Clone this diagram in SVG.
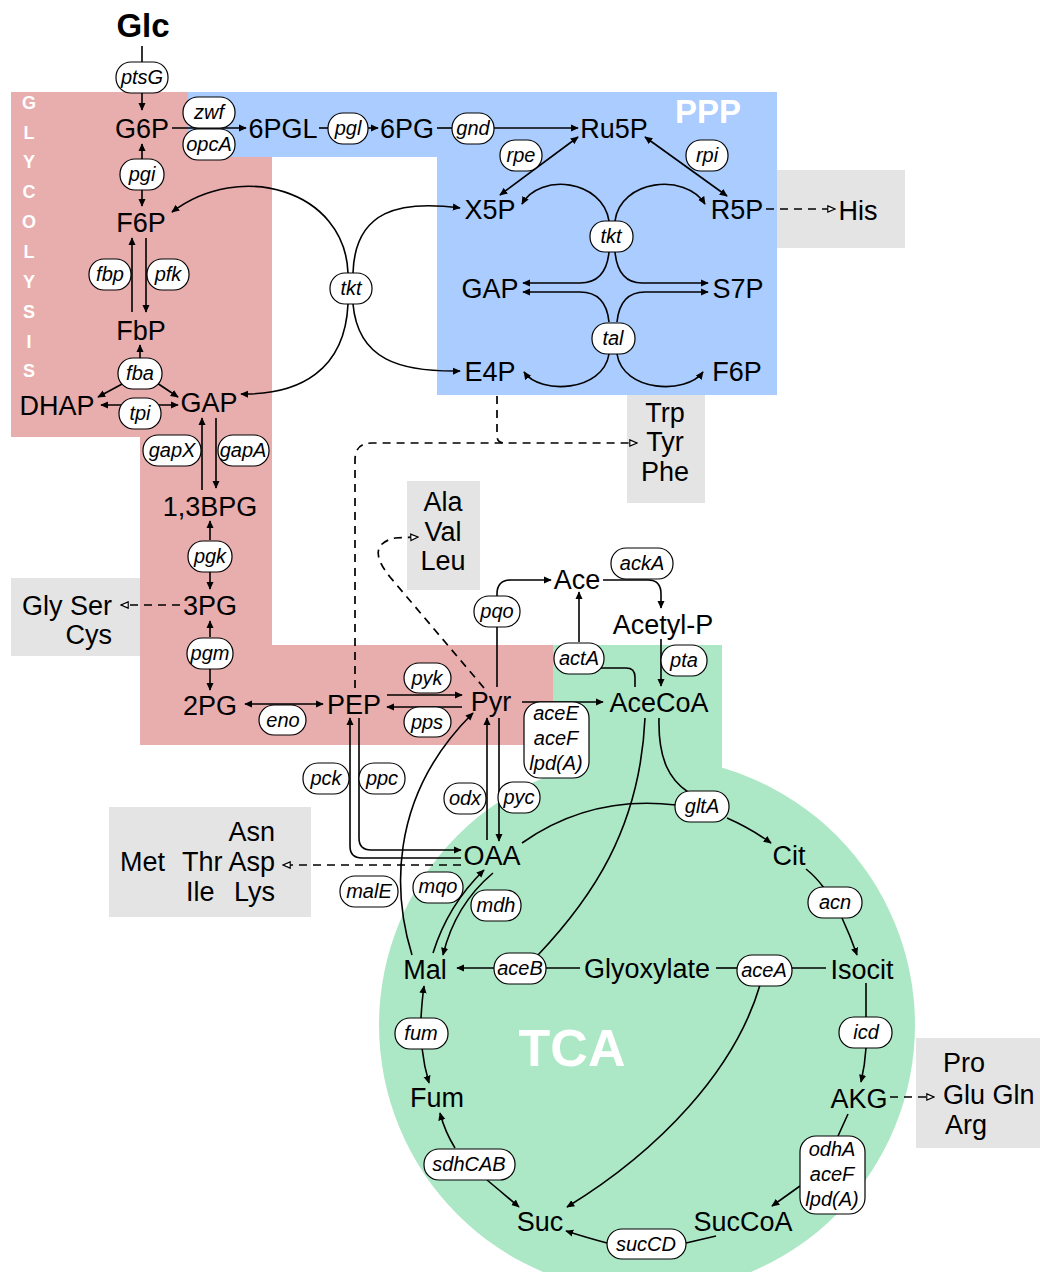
<svg xmlns="http://www.w3.org/2000/svg" width="1040" height="1272" viewBox="0 0 1040 1272">
<style>
text{font-family:'Liberation Sans',Arial,sans-serif;fill:#000}
.m{font-size:27px;text-anchor:middle}
.e{font-size:20px;font-style:italic;text-anchor:middle}
.p{fill:#fff;stroke:#000;stroke-width:1.2}
.c{fill:none;stroke:#000;stroke-width:1.6}
.a{marker-end:url(#ah)}
.b{marker-start:url(#ah);marker-end:url(#ah)}
.d{fill:none;stroke:#000;stroke-width:1.7;stroke-dasharray:8 6}
.o{marker-end:url(#oh)}
text.lab{font-weight:bold;fill:#fff;text-anchor:middle}
.aa{font-size:27px}
</style>
<defs>
<marker id="ah" viewBox="0 0 10 10" refX="9" refY="5" markerWidth="8" markerHeight="8" markerUnits="userSpaceOnUse" orient="auto-start-reverse"><path d="M0,0.5 L10,5 L0,9.5 Z" fill="#000"/></marker>
<marker id="oh" viewBox="0 0 10 10" refX="9" refY="5" markerWidth="9" markerHeight="9" markerUnits="userSpaceOnUse" orient="auto"><path d="M1,1.5 L9,5 L1,8.5 Z" fill="#fff" stroke="#000" stroke-width="1.3"/></marker>
</defs>
<rect width="1040" height="1272" fill="#fff"/>
<g id="regions">
<path d="M11,92 H272 V645 H553 V745 H140 V437 H11 Z" fill="#e8adad"/>
<path d="M188,92 H777 V395 H437 V157 H188 Z" fill="#aaccff"/>
<rect x="553" y="645" width="169" height="140" fill="#ade8c6"/>
<circle cx="647" cy="1025" r="268" fill="#ade8c6"/>
<rect x="777" y="170" width="128" height="78" fill="#e4e4e4"/>
<rect x="627" y="395" width="78" height="108" fill="#e4e4e4"/>
<rect x="407" y="481" width="73" height="109" fill="#e4e4e4"/>
<rect x="11" y="578" width="129" height="78" fill="#e4e4e4"/>
<rect x="109" y="807" width="202" height="110" fill="#e4e4e4"/>
<rect x="916" y="1038" width="124" height="110" fill="#e4e4e4"/>
<text class="lab" x="708" y="123" font-size="33">PPP</text>
<text class="lab" x="572" y="1066" font-size="52">TCA</text>
<g font-size="18">
<text class="lab" x="29" y="109">G</text><text class="lab" x="29" y="139">L</text><text class="lab" x="29" y="168">Y</text><text class="lab" x="29" y="198">C</text><text class="lab" x="29" y="228">O</text><text class="lab" x="29" y="258">L</text><text class="lab" x="29" y="288">Y</text><text class="lab" x="29" y="318">S</text><text class="lab" x="29" y="348">I</text><text class="lab" x="29" y="377">S</text>
</g>
</g>
<g id="connectors">
<path class="c" d="M142,46 V62"/>
<path class="c a" d="M142,93 V110"/>
<path class="c a" d="M172,128 H246"/>
<path class="c" d="M319,128 H328"/>
<path class="c a" d="M368,128 H378"/>
<path class="c" d="M437,128 H452"/>
<path class="c a" d="M494,128 H578"/>
<path class="c b" d="M500,195 L578,137"/>
<path class="c b" d="M645,137 L727,196"/>
<path class="c a" d="M142,159 V144"/>
<path class="c a" d="M142,190 V206"/>
<path class="c a" d="M132,312 V238"/>
<path class="c a" d="M146,238 V312"/>
<path class="c a" d="M140,358 V345"/>
<path class="c a" d="M124,383 L98,397"/>
<path class="c a" d="M157,383 L178,397"/>
<path class="c b" d="M101,405 H178"/>
<path class="c a" d="M202,490 V418"/>
<path class="c a" d="M216,418 V488"/>
<path class="c a" d="M210,540 V521"/>
<path class="c a" d="M210,572 V589"/>
<path class="c a" d="M210,637 V621"/>
<path class="c a" d="M210,669 V690"/>
<path class="c b" d="M245,704 H323"/>
<path class="c a" d="M387,695 H462"/>
<path class="c a" d="M462,707 H387"/>
<path class="c a" d="M497,687 V594 Q497,580 511,580 H551"/>
<path class="c" d="M635,687 V677 Q635,668 626,668 H600"/>
<path class="c a" d="M579,642 V592"/>
<path class="c a" d="M603,580 H648 Q661,580 661,594 V608"/>
<path class="c a" d="M661,639 V686"/>
<path class="c a" d="M522,702 H603"/>
<path class="c a" d="M359,718 V838 Q359,850 371,850 H461"/>
<path class="c a" d="M461,858 H362 Q350,858 350,846 V718"/>
<path class="c a" d="M487,840 V718"/>
<path class="c a" d="M499,718 V841"/>
<path class="c a" d="M412,955 C395,900 385,800 473,713"/>
<path class="c a" d="M433,953 Q448,905 484,870"/>
<path class="c a" d="M493,873 Q455,905 443,955"/>
<path class="c" d="M522,843 Q590,795 676,805"/>
<path class="c a" d="M727,818 Q750,828 771,843"/>
<path class="c" d="M659,718 C658,760 670,780 688,792"/>
<path class="c" d="M645,718 C640,830 590,900 538,955"/>
<path class="c" d="M580,968 H546"/>
<path class="c a" d="M494,968 H457"/>
<path class="c" d="M826,968 H792"/>
<path class="c" d="M737,968 H716"/>
<path class="c a" d="M760,985 C735,1070 660,1150 567,1207"/>
<path class="c" d="M806,869 Q816,877 824,888"/>
<path class="c a" d="M842,918 Q850,935 857,955"/>
<path class="c" d="M866,983 V1017"/>
<path class="c a" d="M866,1048 Q865,1065 861,1082"/>
<path class="c" d="M848,1114 L838,1136"/>
<path class="c a" d="M800,1186 L772,1206"/>
<path class="c" d="M716,1236 L686,1243"/>
<path class="c a" d="M607,1243 Q588,1238 566,1231"/>
<path class="c a" d="M455,1148 Q445,1132 440,1113"/>
<path class="c a" d="M487,1180 Q505,1195 519,1207"/>
<path class="c a" d="M422,1048 Q424,1066 429,1083"/>
<path class="c a" d="M421,1018 Q422,1000 424,986"/>
<path class="c a" d="M348,273 C345,190 240,160 172,212"/>
<path class="c a" d="M348,304 C345,370 300,395 241,394"/>
<path class="c a" d="M353,273 C355,210 400,200 460,208"/>
<path class="c a" d="M353,304 C358,360 400,372 460,371"/>
<path class="c a" d="M609,221 C603,180 540,172 522,204"/>
<path class="c a" d="M615,221 C620,180 685,172 705,204"/>
<path class="c a" d="M609,252 Q606,283 580,283 H523"/>
<path class="c a" d="M615,252 Q618,283 642,283 H708"/>
<path class="c a" d="M609,322 Q606,292 580,292 H523"/>
<path class="c a" d="M617,322 Q620,292 645,292 H708"/>
<path class="c a" d="M609,354 C603,392 540,395 524,372"/>
<path class="c a" d="M617,354 C623,392 686,395 703,372"/>
<path class="d o" d="M766,209 H835"/>
<path class="d" d="M497,396 V436 Q497,443 505,443"/>
<path class="d o" d="M355,688 V460 Q355,443 372,443 H637"/>
<path class="d o" d="M484,688 L390,577 Q364,545 395,538 L418,537"/>
<path class="d o" d="M180,605 H121"/>
<path class="d o" d="M461,865 H283"/>
<path class="d o" d="M890,1097 H934"/>
</g>
<g id="enzymes">
<g id="e-ptsG"><rect class="p" x="116" y="62" width="52" height="31" rx="15"/><text class="e" x="142" y="84">ptsG</text></g>
<g id="e-zwf"><rect class="p" x="183" y="97" width="52" height="31" rx="15"/><text class="e" x="209" y="119">zwf</text></g>
<g id="e-opcA"><rect class="p" x="183" y="129" width="52" height="31" rx="15"/><text class="e" x="209" y="151">opcA</text></g>
<g id="e-pgl"><rect class="p" x="328" y="113" width="40" height="31" rx="15"/><text class="e" x="348" y="135">pgl</text></g>
<g id="e-gnd"><rect class="p" x="452" y="113" width="42" height="31" rx="15"/><text class="e" x="473" y="135">gnd</text></g>
<g id="e-rpe"><rect class="p" x="500" y="140" width="42" height="31" rx="15"/><text class="e" x="521" y="162">rpe</text></g>
<g id="e-rpi"><rect class="p" x="686" y="140" width="42" height="31" rx="15"/><text class="e" x="707" y="162">rpi</text></g>
<g id="e-pgi"><rect class="p" x="120" y="159" width="44" height="31" rx="15"/><text class="e" x="142" y="181">pgi</text></g>
<g id="e-fbp"><rect class="p" x="89" y="259" width="42" height="31" rx="15"/><text class="e" x="110" y="281">fbp</text></g>
<g id="e-pfk"><rect class="p" x="147" y="259" width="42" height="31" rx="15"/><text class="e" x="168" y="281">pfk</text></g>
<g id="e-fba"><rect class="p" x="118" y="358" width="44" height="31" rx="15"/><text class="e" x="140" y="380">fba</text></g>
<g id="e-tpi"><rect class="p" x="119" y="398" width="42" height="31" rx="15"/><text class="e" x="140" y="420">tpi</text></g>
<g id="e-tkt1"><rect class="p" x="330" y="273" width="42" height="31" rx="15"/><text class="e" x="351" y="295">tkt</text></g>
<g id="e-tkt2"><rect class="p" x="590" y="221" width="43" height="31" rx="15"/><text class="e" x="611" y="243">tkt</text></g>
<g id="e-tal"><rect class="p" x="592" y="323" width="43" height="31" rx="15"/><text class="e" x="613" y="345">tal</text></g>
<g id="e-gapX"><rect class="p" x="143" y="435" width="58" height="31" rx="15"/><text class="e" x="172" y="457">gapX</text></g>
<g id="e-gapA"><rect class="p" x="218" y="435" width="51" height="31" rx="15"/><text class="e" x="243" y="457">gapA</text></g>
<g id="e-pgk"><rect class="p" x="188" y="541" width="44" height="31" rx="15"/><text class="e" x="210" y="563">pgk</text></g>
<g id="e-pgm"><rect class="p" x="187" y="638" width="46" height="31" rx="15"/><text class="e" x="210" y="660">pgm</text></g>
<g id="e-eno"><rect class="p" x="259" y="705" width="47" height="30" rx="15"/><text class="e" x="283" y="727">eno</text></g>
<g id="e-pyk"><rect class="p" x="404" y="663" width="47" height="30" rx="15"/><text class="e" x="427" y="685">pyk</text></g>
<g id="e-pps"><rect class="p" x="404" y="707" width="47" height="30" rx="15"/><text class="e" x="427" y="729">pps</text></g>
<g id="e-pqo"><rect class="p" x="474" y="596" width="46" height="31" rx="15"/><text class="e" x="497" y="618">pqo</text></g>
<g id="e-ackA"><rect class="p" x="611" y="548" width="62" height="31" rx="15"/><text class="e" x="642" y="570">ackA</text></g>
<g id="e-actA"><rect class="p" x="554" y="643" width="50" height="31" rx="15"/><text class="e" x="579" y="665">actA</text></g>
<g id="e-pta"><rect class="p" x="661" y="645" width="46" height="31" rx="15"/><text class="e" x="684" y="667">pta</text></g>
<g id="e-pdh"><rect class="p" x="524" y="702" width="65" height="76" rx="16"/><text class="e" x="556" y="720">aceE</text><text class="e" x="556" y="745">aceF</text><text class="e" x="556" y="770">lpd(A)</text></g>
<g id="e-pck"><rect class="p" x="303" y="763" width="46" height="31" rx="15"/><text class="e" x="326" y="785">pck</text></g>
<g id="e-ppc"><rect class="p" x="359" y="763" width="46" height="31" rx="15"/><text class="e" x="382" y="785">ppc</text></g>
<g id="e-odx"><rect class="p" x="444" y="783" width="42" height="31" rx="15"/><text class="e" x="465" y="805">odx</text></g>
<g id="e-pyc"><rect class="p" x="498" y="782" width="42" height="31" rx="15"/><text class="e" x="519" y="804">pyc</text></g>
<g id="e-gltA"><rect class="p" x="675" y="791" width="54" height="31" rx="15"/><text class="e" x="702" y="813">gltA</text></g>
<g id="e-malE"><rect class="p" x="340" y="876" width="58" height="31" rx="15"/><text class="e" x="369" y="898">malE</text></g>
<g id="e-mqo"><rect class="p" x="413" y="872" width="50" height="31" rx="15"/><text class="e" x="438" y="893">mqo</text></g>
<g id="e-mdh"><rect class="p" x="471" y="890" width="50" height="31" rx="15"/><text class="e" x="496" y="912">mdh</text></g>
<g id="e-acn"><rect class="p" x="808" y="887" width="54" height="31" rx="15"/><text class="e" x="835" y="909">acn</text></g>
<g id="e-aceB"><rect class="p" x="494" y="953" width="52" height="31" rx="15"/><text class="e" x="520" y="975">aceB</text></g>
<g id="e-aceA"><rect class="p" x="737" y="955" width="55" height="31" rx="15"/><text class="e" x="764" y="977">aceA</text></g>
<g id="e-fum"><rect class="p" x="395" y="1018" width="53" height="31" rx="15"/><text class="e" x="421" y="1040">fum</text></g>
<g id="e-icd"><rect class="p" x="839" y="1017" width="53" height="31" rx="15"/><text class="e" x="866" y="1039">icd</text></g>
<g id="e-sdhCAB"><rect class="p" x="424" y="1149" width="91" height="31" rx="15"/><text class="e" x="469" y="1171">sdhCAB</text></g>
<g id="e-odh"><rect class="p" x="800" y="1136" width="65" height="78" rx="16"/><text class="e" x="832" y="1156">odhA</text><text class="e" x="832" y="1181">aceF</text><text class="e" x="832" y="1206">lpd(A)</text></g>
<g id="e-sucCD"><rect class="p" x="607" y="1229" width="79" height="30" rx="15"/><text class="e" x="646" y="1251">sucCD</text></g>
</g>
<g id="metabolites">
<g id="Glc"><text x="143" y="37" font-size="33" font-weight="bold" text-anchor="middle">Glc</text></g>
<g id="G6P"><text class="m" x="142" y="138">G6P</text></g>
<g id="PGL6"><text class="m" x="283" y="138">6PGL</text></g>
<g id="PG6"><text class="m" x="407" y="138">6PG</text></g>
<g id="Ru5P"><text class="m" x="614" y="138">Ru5P</text></g>
<g id="F6P"><text class="m" x="141" y="232">F6P</text></g>
<g id="FbP"><text class="m" x="141" y="340">FbP</text></g>
<g id="DHAP"><text class="m" x="57" y="415">DHAP</text></g>
<g id="GAP"><text class="m" x="209" y="412">GAP</text></g>
<g id="BPG13"><text class="m" x="210" y="516">1,3BPG</text></g>
<g id="PG3"><text class="m" x="210" y="615">3PG</text></g>
<g id="PG2"><text class="m" x="210" y="715">2PG</text></g>
<g id="PEP"><text class="m" x="354" y="714">PEP</text></g>
<g id="Pyr"><text class="m" x="491" y="711">Pyr</text></g>
<g id="Ace"><text class="m" x="577" y="589">Ace</text></g>
<g id="AcetylP"><text class="m" x="663" y="634">Acetyl-P</text></g>
<g id="AceCoA"><text class="m" x="659" y="712">AceCoA</text></g>
<g id="OAA"><text class="m" x="492" y="865">OAA</text></g>
<g id="Cit"><text class="m" x="789" y="865">Cit</text></g>
<g id="Mal"><text class="m" x="425" y="979">Mal</text></g>
<g id="Glyoxylate"><text class="m" x="647" y="978">Glyoxylate</text></g>
<g id="Isocit"><text class="m" x="862" y="979">Isocit</text></g>
<g id="Fum"><text class="m" x="437" y="1107">Fum</text></g>
<g id="AKG"><text class="m" x="859" y="1108">AKG</text></g>
<g id="Suc"><text class="m" x="540" y="1231">Suc</text></g>
<g id="SucCoA"><text class="m" x="743" y="1231">SucCoA</text></g>
<g id="X5P"><text class="m" x="490" y="219">X5P</text></g>
<g id="R5P"><text class="m" x="737" y="219">R5P</text></g>
<g id="GAP2"><text class="m" x="490" y="298">GAP</text></g>
<g id="S7P"><text class="m" x="738" y="298">S7P</text></g>
<g id="E4P"><text class="m" x="490" y="381">E4P</text></g>
<g id="F6P2"><text class="m" x="737" y="381">F6P</text></g>
<g id="His"><text class="m" x="858" y="220">His</text></g>
<g id="TrpTyrPhe"><text class="m" x="665" y="422">Trp</text><text class="m" x="665" y="451">Tyr</text><text class="m" x="665" y="481">Phe</text></g>
<g id="AlaValLeu"><text class="m" x="443" y="511">Ala</text><text class="m" x="443" y="541">Val</text><text class="m" x="443" y="570">Leu</text></g>
<g id="GlySerCys"><text class="aa" x="112" y="615" text-anchor="end">Gly Ser</text><text class="aa" x="112" y="644" text-anchor="end">Cys</text></g>
<g id="AsnAsp"><text class="aa" x="275" y="841" text-anchor="end">Asn</text><text class="aa" x="120" y="871">Met</text><text class="aa" x="275" y="871" text-anchor="end">Thr Asp</text><text class="aa" x="186" y="901">Ile</text><text class="aa" x="275" y="901" text-anchor="end">Lys</text></g>
<g id="ProGlu"><text class="aa" x="943" y="1072">Pro</text><text class="aa" x="943" y="1104">Glu Gln</text><text class="aa" x="945" y="1134">Arg</text></g>
</g>
</svg>
